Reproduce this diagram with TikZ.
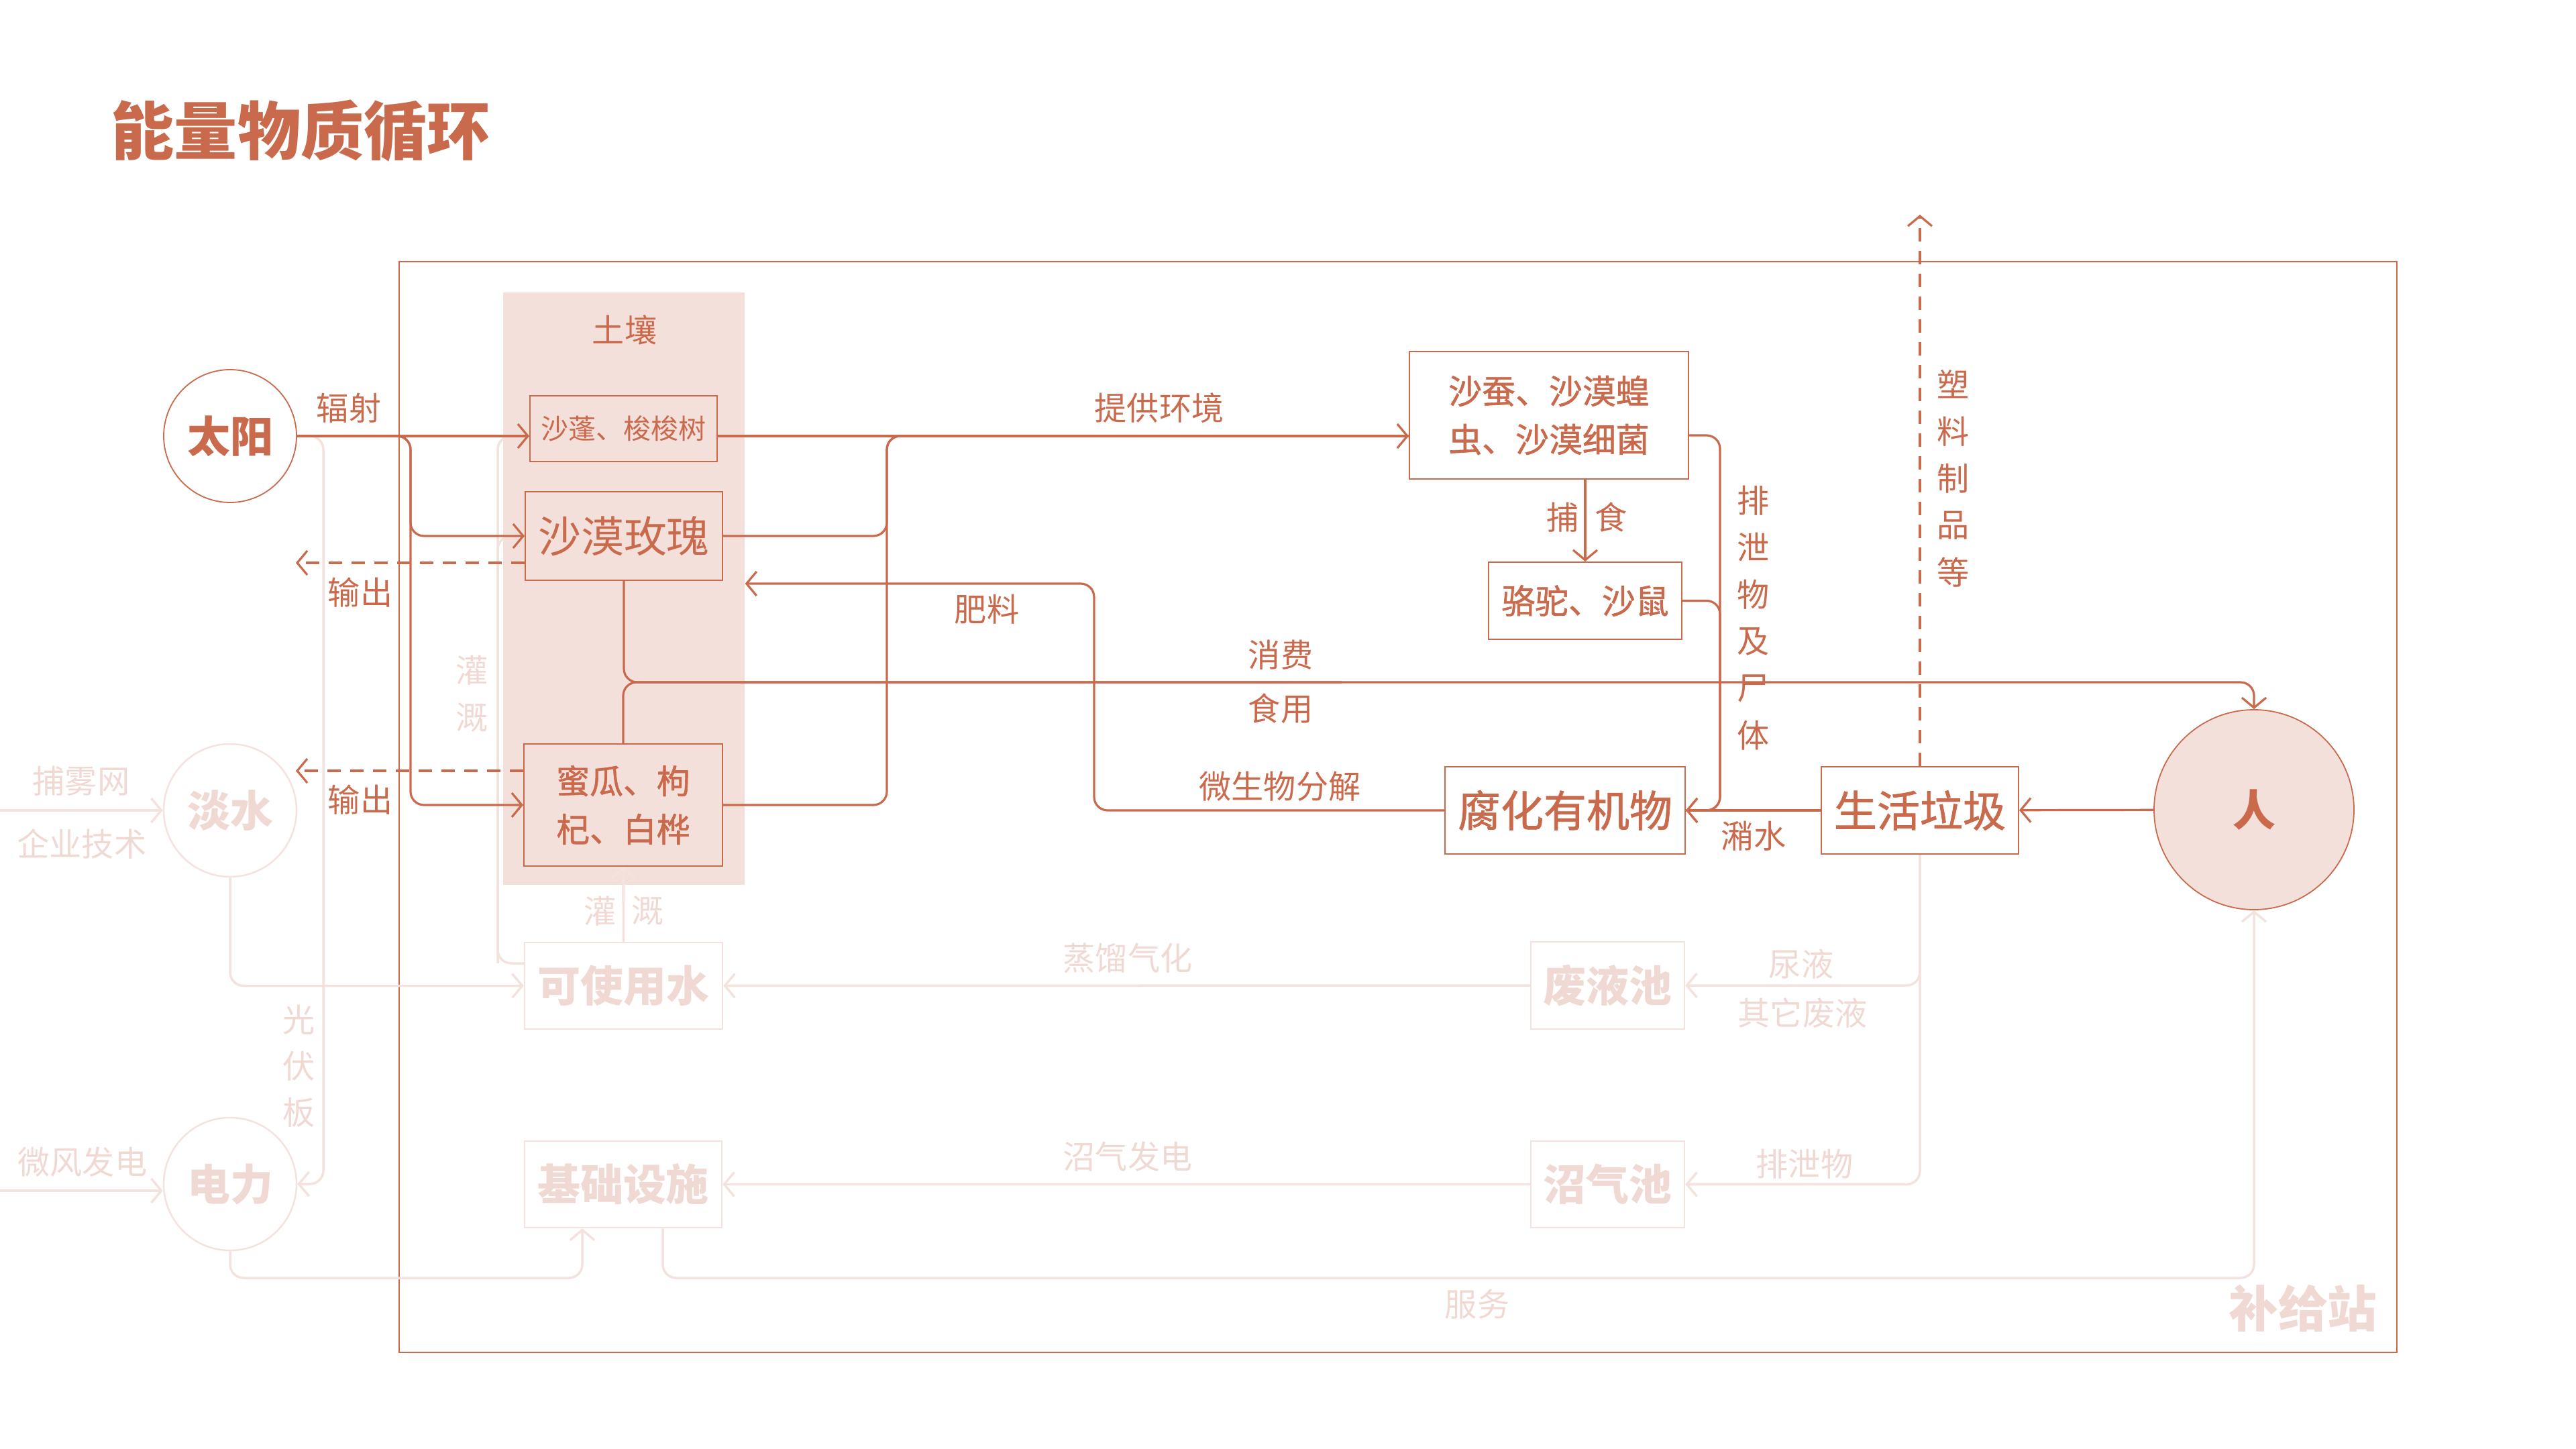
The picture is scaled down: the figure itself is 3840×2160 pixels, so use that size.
\documentclass[tikz,border=0pt]{standalone}
\usepackage{fontspec}
\setmainfont{Noto Sans CJK SC}
\newfontfamily\medfont[FakeBold=1.2]{Noto Sans CJK SC}
\usetikzlibrary{arrows.meta}

\definecolor{clay}{RGB}{201,106,77}
\definecolor{soilpink}{RGB}{244,224,219}
\definecolor{paleline}{RGB}{243,226,221}
\definecolor{paletext}{RGB}{240,217,210}

\tikzset{
  lbl/.style={text=clay, inner sep=0, font=\fontsize{13.7pt}{16pt}\selectfont},
  palelbl/.style={lbl, text=paletext},
  titletext/.style={text=clay, inner sep=0, font=\fontsize{26.8pt}{30pt}\selectfont\bfseries},
  orb/.style={circle, draw=clay, line width=0.18mm, minimum size=19.8mm, inner sep=0, text=clay, font=\fontsize{18.2pt}{22pt}\selectfont\bfseries},
  paleorb/.style={orb, draw=paleline, line width=0.25mm, text=paletext},
  person/.style={orb, fill=soilpink, minimum size=29.8mm},
  box/.style={draw=clay, line width=0.2mm, inner sep=0, text=clay, align=center},
  palebox/.style={box, draw=paleline, line width=0.25mm, text=paletext, font=\fontsize{18.2pt}{22pt}\selectfont\bfseries},
  big/.style={font=\fontsize{18.2pt}{22pt}\selectfont},
  bigmed/.style={font=\fontsize{18.2pt}{22pt}\selectfont\medfont},
  twoline/.style={font=\fontsize{14.2pt}{20.5pt}\selectfont\medfont},
  small/.style={font=\fontsize{11.7pt}{14pt}\selectfont},
  flow/.style={draw=clay, line width=0.32mm, rounded corners=2mm},
  flowarr/.style={flow, -{Straight Barb[length=1.5mm, width=3.6mm]}},
  outarr/.style={flowarr, dash pattern=on 2mm off 1.4mm},
  palearr/.style={flowarr, draw=paleline, line width=0.35mm},
  soilbg/.style={fill=soilpink, inner sep=0, minimum width=36mm, minimum height=88.3mm},
  stationbox/.style={draw=clay, line width=0.18mm, inner sep=0, minimum width=297.8mm, minimum height=162.6mm},
}

\begin{document}
\begin{tikzpicture}[x=0.1mm, y=-0.1mm]
\useasboundingbox (0,0) rectangle (3840,2160);

% background blocks
\node[soilbg] (soil) at (930,877.5) {};
\node[stationbox] (station) at (2084,1203) {};
\node[titletext, anchor=west] (title) at (165,195) {能量物质循环};
\node[lbl] (turang) at (931,492) {土壤};

% sources on the left
\node[orb] (taiyang) at (343,650) {太阳};
\node[paleorb] (danshui) at (343,1208) {淡水};
\node[paleorb] (dianli) at (343,1765) {电力};

% plants in the soil
\node[box, small, minimum width=27.9mm, minimum height=9.8mm] (shapeng) at (929.5,639) {沙蓬、梭梭树};
\node[box, big, minimum width=29.4mm, minimum height=13.2mm] (meigui) at (930,799) {沙漠玫瑰};
\node[box, twoline, minimum width=29.6mm, minimum height=18.2mm] (migua) at (929,1200) {蜜瓜、枸\\杞、白桦};

% animals, waste, people
\node[box, twoline, minimum width=41.6mm, minimum height=19mm] (shacan) at (2309,619) {沙蚕、沙漠蝗\\虫、沙漠细菌};
\node[box, twoline, minimum width=28.8mm, minimum height=11.5mm] (luotuo) at (2363,895.5) {骆驼、沙鼠};
\node[box, bigmed, minimum width=35.8mm, minimum height=13mm] (fuhua) at (2333,1208) {腐化有机物};
\node[box, bigmed, minimum width=29.4mm, minimum height=13mm] (laji) at (2862,1208) {生活垃圾};
\node[person] (ren) at (3360,1207) {人};

% station facilities
\node[palebox, minimum width=29.5mm, minimum height=12.9mm] (keyong) at (929.5,1469.5) {可使用水};
\node[palebox, minimum width=22.9mm, minimum height=13mm] (feiye) at (2396.5,1469) {废液池};
\node[palebox, minimum width=29.4mm, minimum height=12.9mm] (jichu) at (929,1765.5) {基础设施};
\node[palebox, minimum width=22.9mm, minimum height=12.9mm] (zhaoqi) at (2396.5,1765.5) {沼气池};
\node[palelbl, font=\fontsize{21pt}{24pt}\selectfont\bfseries] (buji) at (3433,1950) {补给站};

% helper points
\coordinate (fork) at (612,650);
\coordinate (join) at (1322,650);
\coordinate (eat) at (2000,1017);
\coordinate (fert) at (1631,870);
\coordinate (waste) at (2564,649);
\coordinate (plastic) at (2862,320);
\coordinate (out1) at (441,839);
\coordinate (out2) at (441,1149);
\coordinate (irr) at (742,1436);
\coordinate (pv) at (482,1765);
\coordinate (fog) at (0,1208);
\coordinate (wind) at (0,1775);
\coordinate (power) at (868,1905);
\coordinate (serve) at (988,1905);

% pale connectors
\draw[palearr] (taiyang.east) -| (pv) -- (dianli.east);
\draw[palearr] (fog) -- (danshui);
\draw[palearr] (wind) -- (wind -| dianli.west);
\draw[palearr] (danshui.south) |- (keyong.west);
\draw[palearr] (keyong.west |- irr) -- (irr) |- (shapeng.west |- taiyang);
\draw[palearr] (irr) |- (meigui.west);
\draw[palearr] (keyong.north) -- (migua.south);
\draw[palearr] (feiye) -- (keyong);
\draw[palearr] (laji.south) |- (feiye.east);
\draw[palearr] (laji.south) |- (zhaoqi.east);
\draw[palearr] (zhaoqi) -- (jichu);
\draw[palearr] (dianli.south) |- (power) -- (power |- jichu.south);
\draw[palearr] (serve |- jichu.south) -- (serve) -| (ren.south);

% main connectors
\draw[flowarr] (taiyang) -- (taiyang -| shapeng.west);
\draw[flowarr] (taiyang.east) -| (fork |- meigui.west) -- (meigui.west);
\draw[flowarr] (taiyang.east) -| (fork |- migua.west) -- (migua.west);
\draw[outarr] (meigui.west |- out1) -- (out1);
\draw[outarr] (migua.west |- out2) -- (out2);
\draw[flowarr] (shapeng.east |- taiyang) -- (shacan.west |- taiyang);
\draw[flow] (meigui.east) -| (join) -- (shacan.west |- join);
\draw[flow] (migua.east) -| (join) -- (shacan.west |- join);
\draw[flowarr] (meigui.south) |- (eat) -| (ren.north);
\draw[flow] (migua.north) |- (eat);
\draw[flowarr] (fuhua.west) -| (fert) -- (fert -| soil.east);
\draw[flowarr] (luotuo.north |- shacan.south) -- (luotuo.north);
\draw[flowarr] (shacan.east |- waste) -- (waste) |- (fuhua.east);
\draw[flow] (luotuo.east) -| (waste |- fuhua.east) -- (fuhua.east);
\draw[flowarr] (laji) -- (fuhua);
\draw[flowarr] (ren) -- (laji);
\draw[outarr] (laji.north) -- (plastic);

% labels
\node[lbl] (fushe) at (520,608) {辐射};
\node[lbl] (shuchu1) at (537,883) {输出};
\node[lbl] (shuchu2) at (537,1192) {输出};
\node[lbl] (tigong) at (1728,608) {提供环境};
\node[lbl] (feiliao) at (1471,908) {肥料};
\node[lbl] (xiaofei) at (1909,976) {消费};
\node[lbl] (shiyong) at (1909,1056) {食用};
\node[lbl] (fenjie) at (1908,1172) {微生物分解};
\node[lbl] (bu) at (2330,771) {捕};
\node[lbl] (shi) at (2402,771) {食};
\node[lbl] (shaoshui) at (2614,1246) {潲水};
\foreach \c [count=\i from 0] in {排,泄,物,及,尸,体}
  \node[lbl] (paixie\i) at (2614,{746+70*\i}) {\c};
\foreach \c [count=\i from 0] in {塑,料,制,品,等}
  \node[lbl] (suliao\i) at (2912,{573+70*\i}) {\c};

% pale labels
\node[palelbl] (buwu) at (121,1164) {捕雾网};
\node[palelbl] (qiye) at (122,1258) {企业技术};
\node[palelbl] (weifeng) at (123,1732) {微风发电};
\foreach \c [count=\i from 0] in {光,伏,板}
  \node[palelbl] (guangfu\i) at (446,{1520+69*\i}) {\c};
\foreach \c [count=\i from 0] in {灌,溉}
  \node[palelbl] (guangai\i) at (704,{999+71*\i}) {\c};
\node[palelbl] (guan) at (895,1358) {灌};
\node[palelbl] (gai) at (966,1358) {溉};
\node[palelbl] (zhengliu) at (1681,1428) {蒸馏气化};
\node[palelbl] (niaoye) at (2685,1437) {尿液};
\node[palelbl] (qita) at (2687,1510) {其它废液};
\node[palelbl] (zhaoqifd) at (1681,1724) {沼气发电};
\node[palelbl] (paixiewu) at (2690,1735) {排泄物};
\node[palelbl] (fuwu) at (2202,1944) {服务};
\end{tikzpicture}
\end{document}
